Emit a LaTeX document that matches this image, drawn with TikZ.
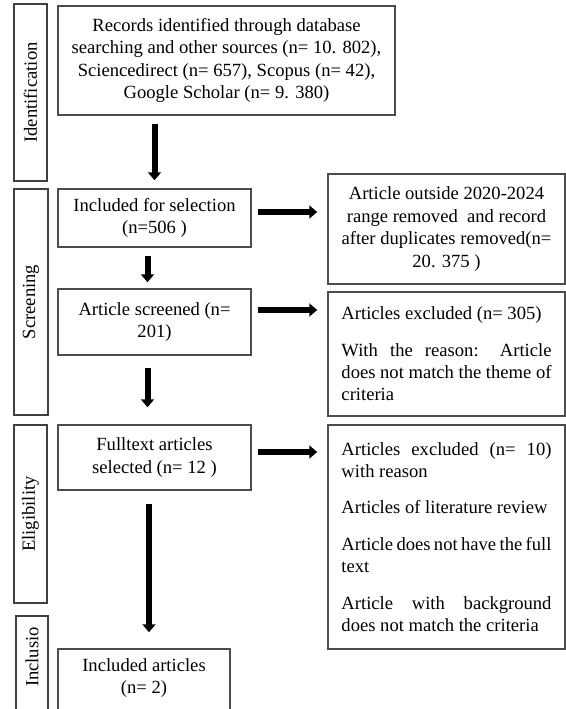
\documentclass[tikz,border=0pt]{standalone}
\usepackage{fontspec}
\setmainfont{Liberation Serif}
\usetikzlibrary{arrows.meta}

\begin{document}
\begin{tikzpicture}[x=0.5pt, y=-0.5pt,
  txt/.style={font=\fontsize{9.3}{11.2}\selectfont, inner sep=0pt, align=center},
  box/.style={draw=black!70, line width=0.75pt, inner sep=2pt, align=center, font=\fontsize{9.3}{11.2}\selectfont},
  sidebox/.style={draw=black!75, line width=0.75pt, rotate=90, inner sep=0pt, font=\fontsize{9.3}{11.2}\selectfont},
  reason/.style={box, text width=105pt, inner xsep=6.75pt, align=justify},
  arr/.style={line width=3pt, -{Triangle[length=4pt,width=6.5pt]}}]
\useasboundingbox (0,0) rectangle (566,709);
\clip (0,0) rectangle (566,709);
%%%%% Stages %%%%%
\node[sidebox, minimum width=88.5pt, minimum height=16.5pt] (idlab) at (30.5,92.5) {Identification};
\node[sidebox, minimum width=113pt, minimum height=17pt] (scrlab) at (31,302) {Screening};
\node[sidebox, minimum width=89pt, minimum height=16.5pt] (eliglab) at (30.5,514) {Eligibility};
\node[sidebox, minimum width=57pt, minimum height=16pt] (incllab) at (32,673) {};
\node[txt, rotate=90] (incltxt) at (32,657) {Inclusio};
%%%%% Main column %%%%%
\node[box, minimum width=168.5pt, minimum height=54.5pt] (rec) at (226.5,60.5)
  {Records identified through database\\searching and other sources (n= 10. 802),\\Sciencedirect (n= 657), Scopus (n= 42),\\Google Scholar (n= 9. 380)};
\node[box, minimum width=96.5pt, minimum height=29pt] (sel) at (154.5,218) {Included for selection\\(n=506 )};
\node[box, minimum width=96.5pt, minimum height=33pt] (scd) at (154.5,322) {Article screened (n=\\201)};
\node[box, minimum width=96.5pt, minimum height=32.5pt] (full) at (154.5,457.5) {Fulltext articles\\selected (n= 12 )};
\node[box, minimum width=86pt, minimum height=40.5pt] (incl) at (144,689.5) {};
\node[txt] (incltext) at (144,678) {Included articles\\(n= 2)};
%%%%% Removed %%%%%
\node[box, minimum width=118.5pt, minimum height=55pt] (rmdup) at (446.5,229)
  {Article outside 2020-2024\\range removed~ and record\\after duplicates removed(n=\\20. 375 )};
\node[reason, minimum height=62pt] (rex1) at (446.5,354)
  {Articles excluded (n= 305)\\[7pt] With the reason: Article\linebreak does not match the theme of\linebreak criteria};
\node[reason, minimum height=112pt] (rex2) at (446.5,537)
  {Articles excluded (n= 10)\linebreak with reason\\[7pt] Articles of literature review\\[7pt] Article does not have the full\linebreak text\\[7pt] Article with background\linebreak does not match the criteria};
%%%%% Arrows %%%%%
\draw[arr, shorten <=4pt, shorten >=4pt] (rec.south -| sel.north) -- (sel.north);
\draw[arr, shorten <=4pt, shorten >=3pt] ([xshift=-3.5pt]sel.south) -- ([xshift=-3.5pt]scd.north);
\draw[arr, shorten <=6pt, shorten >=8.5pt] ([xshift=-3.5pt]scd.south) -- ([xshift=-3.5pt]full.north);
\draw[arr, shorten <=6.5pt, shorten >=8pt] ([xshift=-2.75pt]full.south) -- ([xshift=-2.75pt]full.south |- incl.north);
\draw[arr, shorten <=3pt, shorten >=5pt] ([yshift=3pt]sel.east) -- ([yshift=3pt]sel.east -| rmdup.west);
\draw[arr, shorten <=3pt, shorten >=5pt] ([yshift=6pt]scd.east) -- ([yshift=6pt]scd.east -| rex1.west);
\draw[arr, shorten <=3pt, shorten >=5pt] ([yshift=2.75pt]full.east) -- ([yshift=2.75pt]full.east -| rex2.west);
\end{tikzpicture}
\end{document}
